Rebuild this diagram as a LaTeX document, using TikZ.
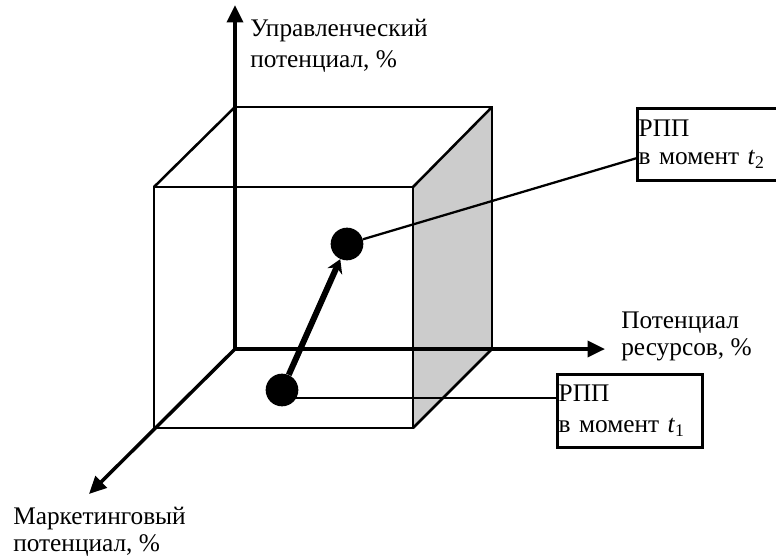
\documentclass[tikz,border=0pt]{standalone}
\usepackage{fontspec}
\setmainfont{Liberation Serif}
\usetikzlibrary{arrows.meta}

\begin{document}
\begin{tikzpicture}[x=0.75pt,y=-0.75pt,
	axis/.style={line width=2.6pt,-{Triangle[length=13pt,width=12pt]}},
	edge/.style={line width=1.9pt},
	lbl/.style={inner sep=0pt,anchor=north west,align=left},
	rpp/.style={draw,line width=2pt,anchor=north west,align=left,inner xsep=1pt,inner ysep=0pt},
	dot/.style={circle,fill,inner sep=0pt,minimum size=24.5pt}]
	
	\useasboundingbox (0,0) rectangle (776,557);
	\clip (0,0) rectangle (776,557); % the box of t_2 runs out of the picture
	
	% corners of the cube, back face B and front face F
	\coordinate (O) at (235,349);
	\coordinate (B1) at (235,107);
	\coordinate (B2) at (492,107);
	\coordinate (B3) at (492,349);
	\coordinate (F1) at (154,187);
	\coordinate (F2) at (413,187);
	\coordinate (F3) at (413,428);
	\coordinate (F4) at (154,428);
	
	% ends of the three axes
	\coordinate (Yend) at (235,5);
	\coordinate (Xend) at (605,349);
	\coordinate (Zend) at (89,494);
	
	\fill[gray!40] (F2) -- (B2) -- (B3) -- (F3) -- cycle;
	% shaded right face
	
	\draw[edge] (B1) -- (B2) -- (B3);
	\draw[edge] (F1) rectangle (F3);
	\draw[edge] (F1) -- (B1) (F2) -- (B2) (F3) -- (B3);
	
	\draw[axis] (O) -- (Yend);
	\draw[axis] (O) -- (Xend);
	\draw[axis] (O) -- (Zend);
	
	\node[lbl,font=\fontsize{19}{23}\selectfont] (ylbl) at (250,19) {Управленческий\\потенциал, \%};
	\node[lbl,font=\fontsize{19}{20}\selectfont] (xlbl) at (621,312) {Потенциал\\ресурсов, \%};
	\node[lbl,font=\fontsize{19}{20}\selectfont] (zlbl) at (13,507) {Маркетинговый\\потенциал, \%};
	
	\node[rpp,font=\fontsize{19}{23}\selectfont,text width=106.75pt,minimum height=54.75pt] (rpp1) at (556,373)
	{РПП\\в момент \textit{t}\textsubscript{1}};
	\node[rpp,font=\fontsize{19}{21}\selectfont,text width=125pt,minimum height=54pt] (rpp2) at (636,107)
	{РПП\\в момент \textit{t}\textsubscript{2}};
	
	\node[dot] (p1) at (282,390) {};
	\node[dot] (p2) at (347,244) {};
	
	\draw[line width=1.7pt] (p1.-30) -- (p1.-30 -| rpp1.west);
	\draw[line width=1.7pt] (p2) -- ([yshift=-10.5pt]rpp2.west);
	
	\draw[line width=4.5pt,-{Stealth[length=10pt,width=12pt]}] (p1) -- (p2);
	% shift from t_1 to t_2
	
\end{tikzpicture}
\end{document}
